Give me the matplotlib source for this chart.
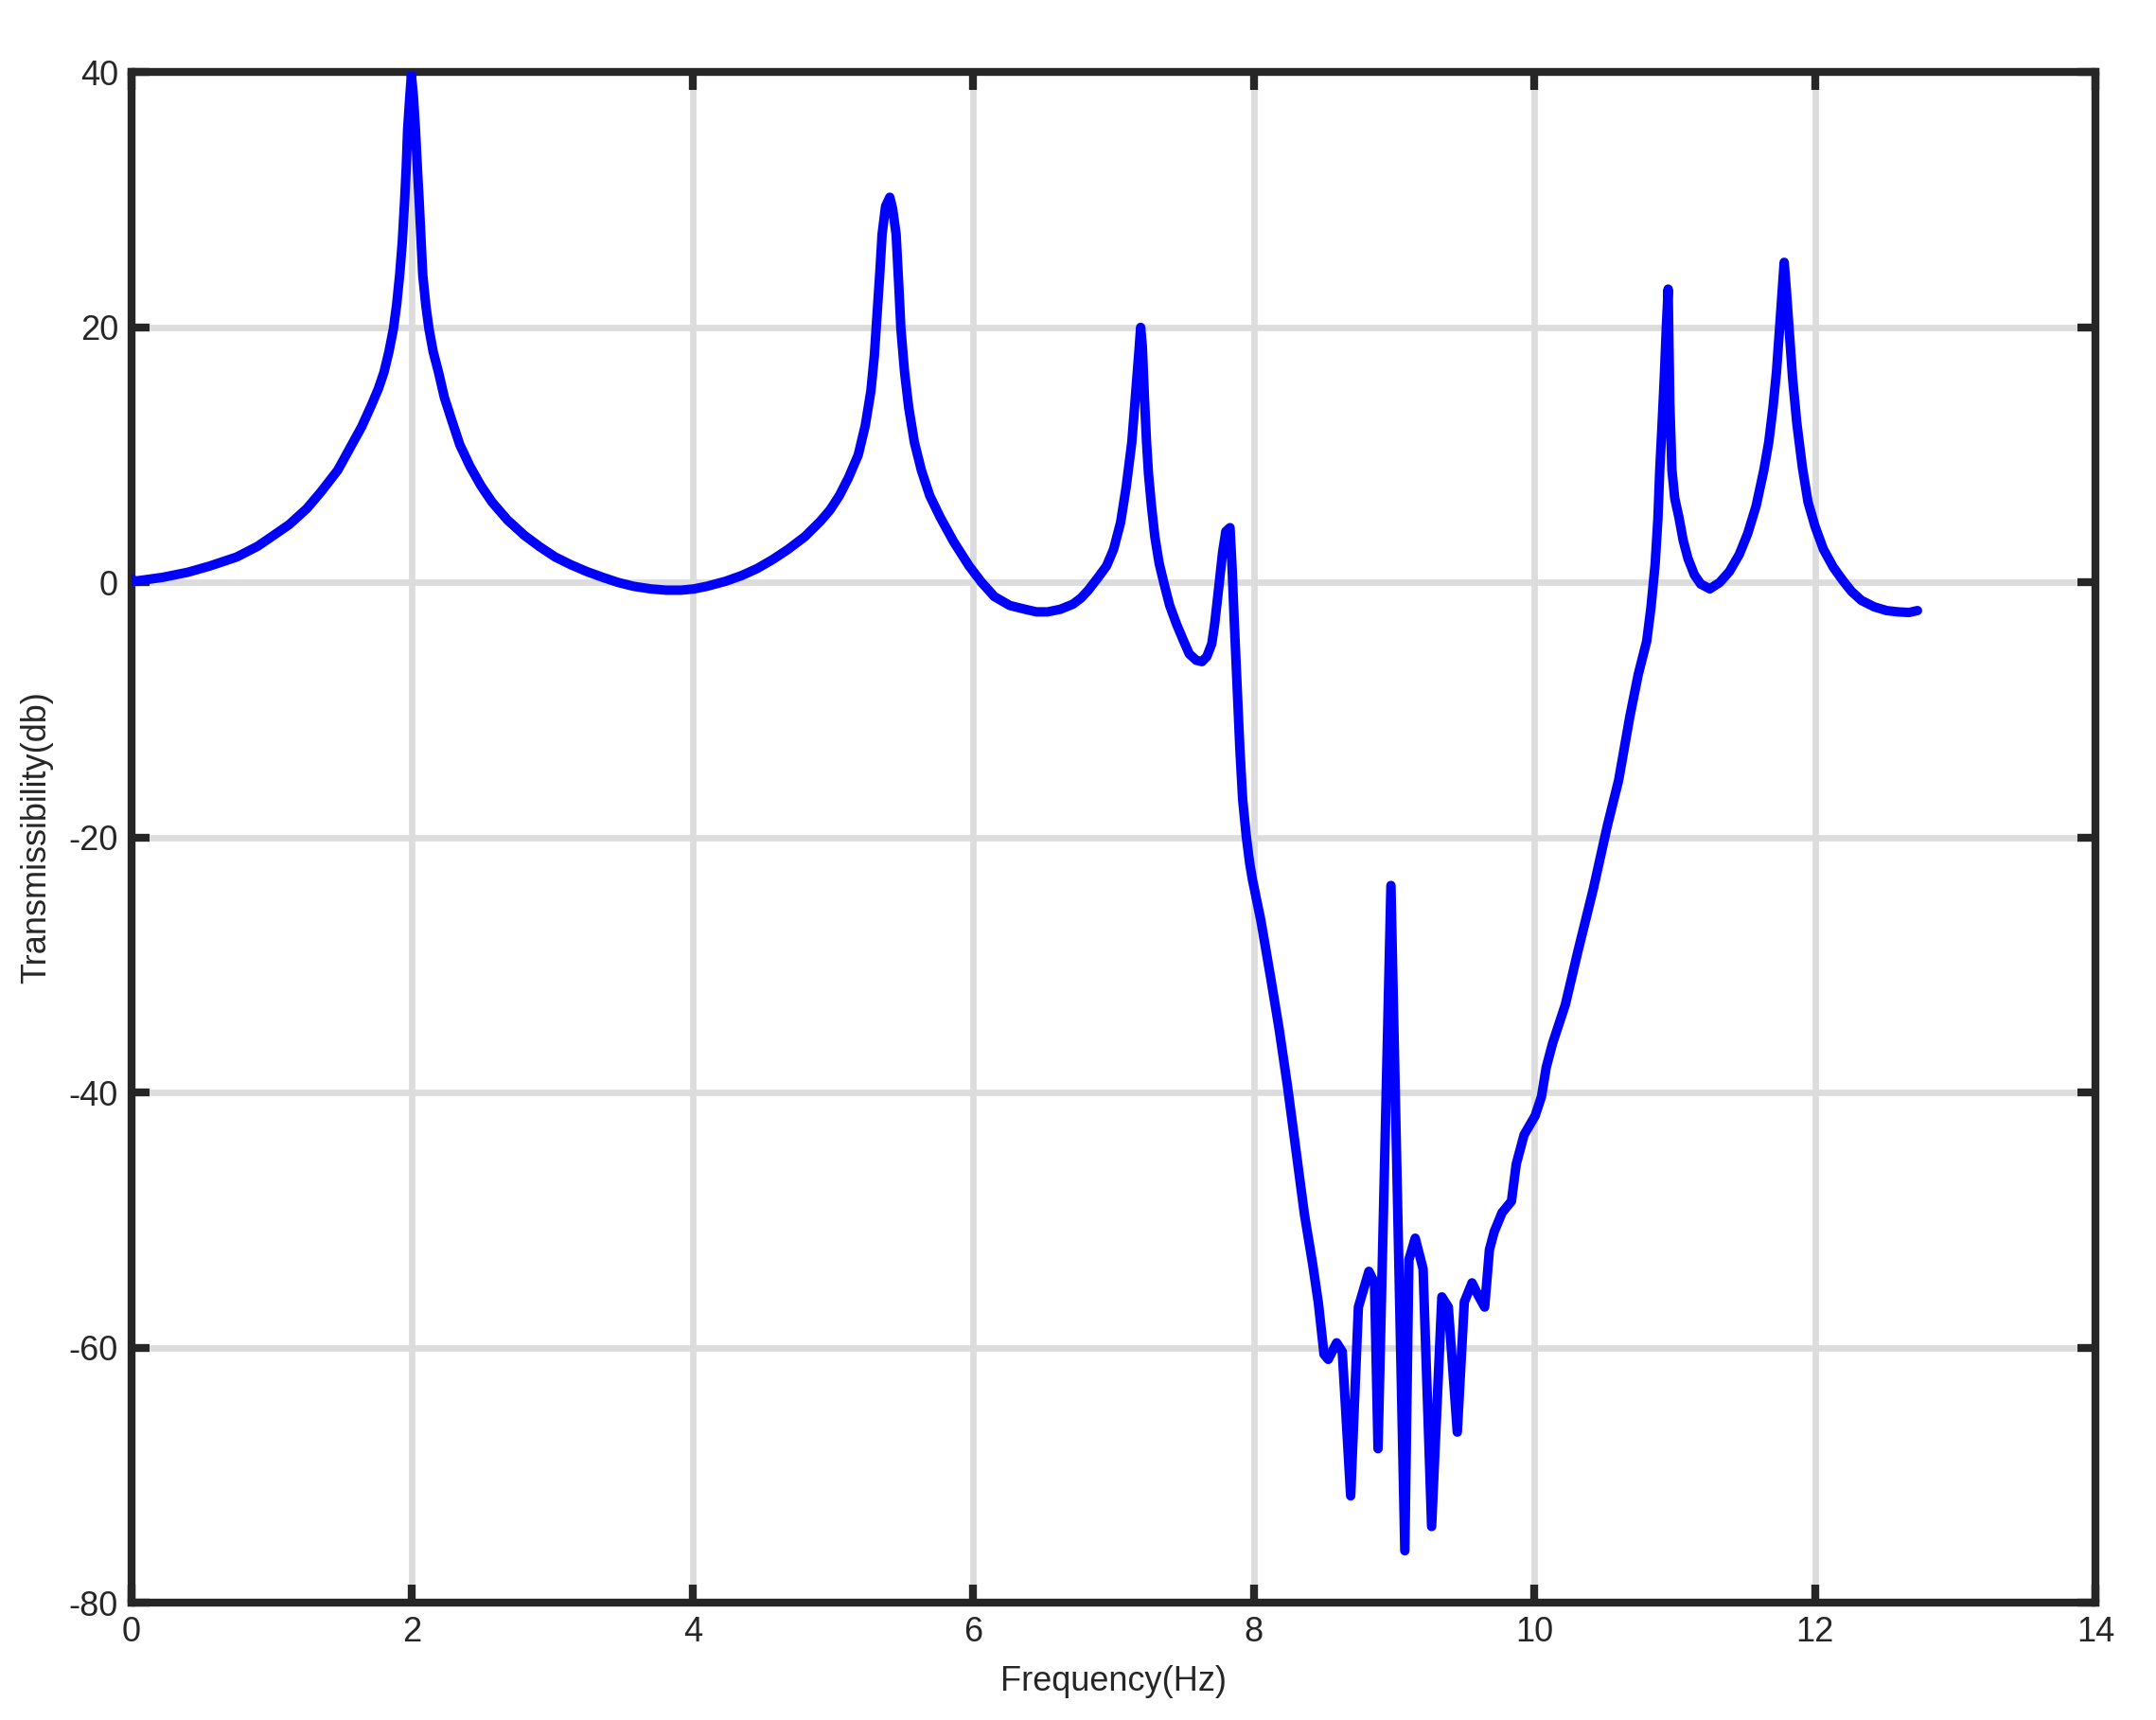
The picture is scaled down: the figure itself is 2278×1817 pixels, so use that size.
import numpy as np
import matplotlib.pyplot as plt

plt.rcParams['font.family'] = ['Liberation Sans', 'DejaVu Sans']
plt.rcParams['axes.unicode_minus'] = False

# frequency (Hz) and transmissibility (dB)
freq = [0.00, 0.02, 0.22, 0.40, 0.56, 0.75, 0.90, 1.00, 1.125, 1.25, 1.35,
        1.47, 1.57, 1.64, 1.71, 1.76, 1.80, 1.835, 1.867, 1.89, 1.912, 1.93,
        1.946, 1.958, 1.968, 1.983, 1.995, 2.01, 2.024, 2.04, 2.05, 2.063,
        2.076, 2.098, 2.12, 2.15, 2.188, 2.23, 2.28, 2.34, 2.413, 2.49, 2.57,
        2.68, 2.80, 2.91, 3.02, 3.13, 3.245, 3.36, 3.47, 3.58, 3.70, 3.81,
        3.92, 4.01, 4.10, 4.235, 4.35, 4.46, 4.57, 4.68, 4.80, 4.91, 4.98,
        5.045, 5.11, 5.18, 5.23, 5.27, 5.295, 5.315, 5.335, 5.35, 5.375,
        5.405, 5.425, 5.45, 5.468, 5.484, 5.51, 5.54, 5.58, 5.63, 5.69,
        5.765, 5.86, 5.97, 6.06, 6.15, 6.26, 6.37, 6.45, 6.53, 6.62, 6.71,
        6.77, 6.82, 6.89, 6.95, 7.0, 7.05, 7.09, 7.13, 7.16, 7.18, 7.193,
        7.205, 7.22, 7.235, 7.249, 7.27, 7.294, 7.325, 7.36, 7.40, 7.45,
        7.50, 7.54, 7.59, 7.63, 7.665, 7.70, 7.72, 7.74, 7.777, 7.80, 7.83,
        7.845, 7.86, 7.88, 7.90, 7.92, 7.946, 7.97, 7.99, 8.05, 8.12, 8.18,
        8.24, 8.30, 8.36, 8.42, 8.46, 8.50, 8.53, 8.59, 8.63, 8.69, 8.745,
        8.82, 8.86, 8.885, 8.977, 9.076, 9.105, 9.15, 9.206, 9.267, 9.34,
        9.386, 9.45, 9.50, 9.555, 9.60, 9.645, 9.679, 9.713, 9.769, 9.836,
        9.87, 9.926, 10.005, 10.05, 10.084, 10.13, 10.22, 10.31, 10.42,
        10.52, 10.60, 10.68, 10.74, 10.80, 10.83, 10.86, 10.88, 10.893,
        10.91, 10.926, 10.94, 10.953, 10.957, 10.965, 10.98, 11.0, 11.03,
        11.06, 11.095, 11.14, 11.185, 11.25, 11.32, 11.39, 11.46, 11.52,
        11.58, 11.635, 11.67, 11.70, 11.725, 11.747, 11.765, 11.78, 11.795,
        11.815, 11.84, 11.87, 11.91, 11.95, 12.0, 12.06, 12.13, 12.20,
        12.26, 12.33, 12.42, 12.51, 12.59, 12.67, 12.73]
tdb = [0.3, 0.1, 0.4, 0.8, 1.3, 2.0, 2.85, 3.6, 4.55, 5.8, 7.1,
       8.8, 10.8, 12.2, 13.9, 15.2, 16.5, 18.1, 19.9, 21.8, 24.2, 26.7,
       29.8, 32.5, 35.5, 38.0, 39.8, 38.0, 35.5, 32.0, 30.0, 27.0,
       24.1, 21.7, 19.9, 18.1, 16.5, 14.5, 12.8, 10.8, 9.1, 7.6, 6.3,
       4.9, 3.7, 2.8, 2.0, 1.4, 0.86, 0.4, 0.0, -0.3, -0.5, -0.6,
       -0.6, -0.5, -0.3, 0.1, 0.55, 1.1, 1.8, 2.6, 3.6, 4.8, 5.7,
       6.8, 8.2, 10.0, 12.3, 15.0, 17.8, 21.2, 24.5, 27.3, 29.5,
       30.2, 29.3, 27.3, 23.5, 19.9, 16.5, 13.7, 11.0, 8.8, 6.8,
       5.1, 3.2, 1.3, 0.0, -1.1, -1.8, -2.1, -2.3, -2.3, -2.1, -1.7,
       -1.2, -0.6, 0.4, 1.3, 2.6, 4.7, 7.5, 11.0, 15.2, 18.0, 20.0,
       18.5, 14.5, 11.0, 8.5, 6.0, 3.6, 1.5, -0.1, -1.8, -3.3,
       -4.6, -5.6, -6.1, -6.2, -5.8, -4.8, -3.3, -1.35, 2.36, 4.0, 4.3,
       1.1, -3.0, -8.0, -13.0, -17.0, -19.9, -22.0, -23.3, -26.5, -31.0, -35.0,
       -39.5, -44.5, -49.5, -53.5, -56.5, -60.5, -60.9, -59.6, -60.3, -71.6, -56.8,
       -54.0, -54.9, -67.9, -23.75, -75.9, -53.1, -51.4, -53.8, -74.0, -56.0,
       -56.8, -66.6, -56.4, -54.9, -55.9, -56.8, -52.3, -50.9, -49.4, -48.5,
       -45.6, -43.3, -41.8, -40.3, -38.0, -36.1, -33.1, -28.9, -24.0,
       -19.05, -15.5, -10.5, -7.2, -4.6, -2.0, 1.4, 5.0, 8.8,
       12.5, 16.2, 20.0, 23.0, 20.0, 14.0, 8.8, 6.6, 5.1,
       3.3, 1.86, 0.6, -0.12, -0.5, 0.0, 0.87, 2.2, 3.84,
       6.0, 8.8, 11.0, 13.7, 16.5, 19.9, 22.8, 25.1, 23.0,
       19.9, 16.0, 12.5, 9.0, 6.3, 4.4, 2.6, 1.2, 0.13,
       -0.7, -1.4, -1.9, -2.2, -2.3, -2.35, -2.2]

xticks = [0, 2, 4, 6, 8, 10, 12, 14]
yticks = [-80, -60, -40, -20, 0, 20, 40]

fig = plt.figure(figsize=(11.39, 9.085), dpi=200)
ax = fig.add_axes([0.061, 0.068, 0.911, 0.890])

ax.plot(freq, tdb, color='#0000ff', lw=3.6, solid_joinstyle='round',
        solid_capstyle='round', zorder=3)

ax.set_xlim(0, 14)
ax.set_ylim(-80, 40)
ax.set_xticks(xticks)
ax.set_yticks(yticks)
ax.grid(True, color='#dcdcdc', lw=2.4, zorder=0)
ax.set_axisbelow(True)

for s in ax.spines.values():
    s.set_linewidth(3.0)
    s.set_color('#262626')
ax.tick_params(direction='in', length=7, width=3.0, color='#262626',
               top=True, right=True, labelsize=13, labelcolor='#262626', pad=5)

ax.set_xlabel('Frequency(Hz)', fontsize=13, color='#262626', labelpad=6)
ax.set_ylabel('Transmissibility(db)', fontsize=13, color='#262626', labelpad=6)

fig.savefig('out.png', dpi=200, facecolor='white')
